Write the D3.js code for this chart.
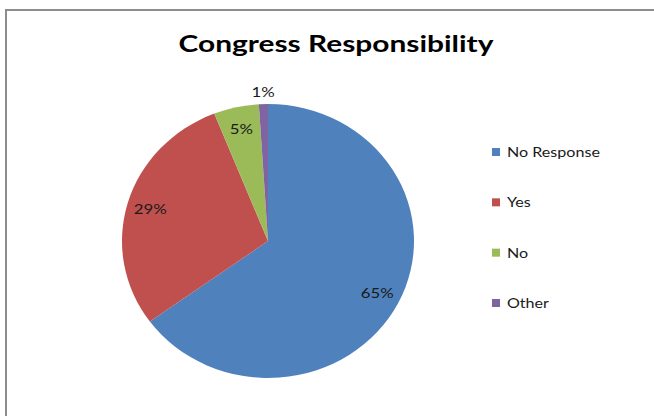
<!DOCTYPE html>
<html><head><meta charset="utf-8">
<script src="https://cdn.jsdelivr.net/npm/d3@7"></script>
<style>body{margin:0;background:#fff}svg{display:block}</style>
</head><body>
<svg id="c" width="654" height="416"></svg>
<script>
const categories = ["No Response", "Yes", "No", "Other"];
const values = [65, 29, 5, 1];
const colors = ["#4F81BD", "#C0504D", "#9BBB59", "#8064A2"];
const title = "Congress Responsibility";

const svg = d3.select("#c");
const W = 654, H = 416;
const FONT = "Lato, 'Open Sans', sans-serif";
// chart border
svg.append("rect").attr("x", 6).attr("y", 10).attr("width", W + 10).attr("height", H + 10)
  .attr("fill", "#fff").attr("stroke", "#8c8c8c").attr("stroke-width", 2);

function stretchedText(sel, x, y, sx) {
  return sel.append("text").attr("transform", `translate(${x},${y}) scale(${sx},1)`);
}

stretchedText(svg, 336, 52, 1.3).attr("text-anchor", "middle")
  .attr("font-family", FONT).attr("font-weight", "bold")
  .attr("font-size", 23).attr("fill", "#000").text(title);

const cx = 268, cy = 241, rx = 146, ry = 137;
const data = categories.map((c, i) => ({cat: c, value: values[i], color: colors[i]}));
const pie = d3.pie().value(d => d.value).sort(null);
const arcs = pie(data);
const arc = d3.arc().innerRadius(0).outerRadius(rx);
const g = svg.append("g").attr("transform", `translate(${cx},${cy})`);
g.append("g").attr("transform", `scale(1,${ry / rx})`)
  .selectAll("path").data(arcs).join("path").attr("d", arc).attr("fill", d => d.data.color);

const total = d3.sum(values);
const inner = d3.arc().innerRadius(0.84).outerRadius(0.84);
const outer = d3.arc().innerRadius(1.09).outerRadius(1.09);
arcs.forEach(d => {
  const p = (d.data.value / total < 0.03 ? outer : inner).centroid(d);
  stretchedText(g, p[0] * rx, p[1] * ry, 1.2)
    .attr("text-anchor", "middle").attr("dy", "0.35em")
    .attr("font-family", FONT).attr("font-size", 14).attr("fill", "#1a1a1a")
    .text(Math.round(d.data.value / total * 100) + "%");
});

const leg = svg.append("g");
const ly = d3.scalePoint().domain(categories).range([152, 303]);
categories.forEach((c, i) => {
  leg.append("rect").attr("x", 492).attr("y", ly(c) - 4).attr("width", 8).attr("height", 8).attr("fill", colors[i]);
  stretchedText(leg, 507, ly(c), 1.15).attr("dy", "0.36em")
    .attr("font-family", FONT).attr("font-size", 14).attr("fill", "#1a1a1a").text(c);
});
</script>
</body></html>
